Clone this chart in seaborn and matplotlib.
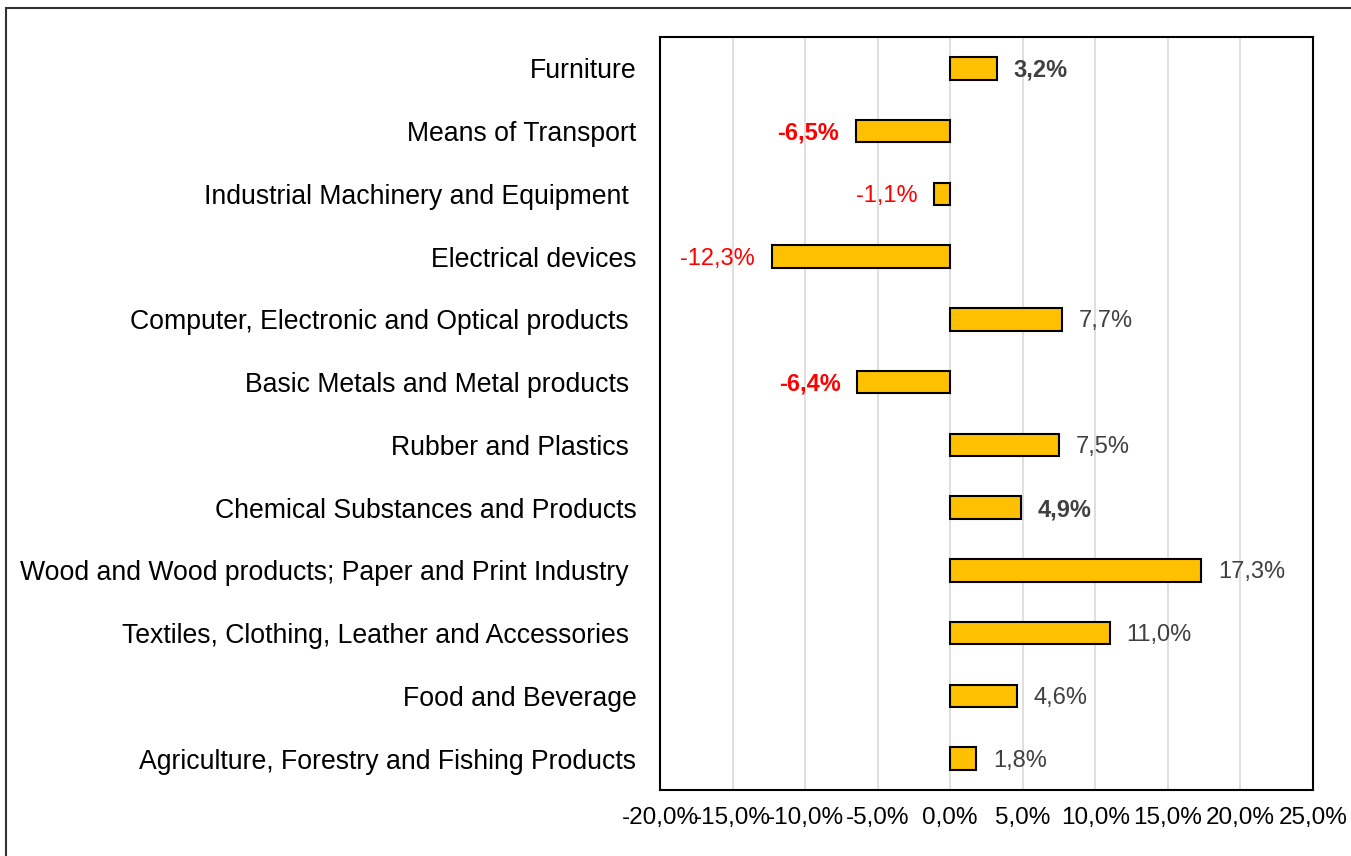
import numpy as np
import pandas as pd
import matplotlib.pyplot as plt
import seaborn as sns
from matplotlib.patches import Rectangle
from matplotlib.ticker import FuncFormatter

# kategorie od gory do dolu
categories = [
    "Furniture",
    "Means of Transport",
    "Industrial Machinery and Equipment ",
    "Electrical devices",
    "Computer, Electronic and Optical products ",
    "Basic Metals and Metal products ",
    "Rubber and Plastics ",
    "Chemical Substances and Products",
    "Wood and Wood products; Paper and Print Industry ",
    "Textiles, Clothing, Leather and Accessories ",
    "Food and Beverage",
    "Agriculture, Forestry and Fishing Products",
]
growth = [3.2, -6.5, -1.1, -12.3, 7.7, -6.4, 7.5, 4.9, 17.3, 11.0, 4.6, 1.8]
xticks = [-20, -15, -10, -5, 0, 5, 10, 15, 20, 25]

# etykiety pogrubione
bold_labels = {"Furniture", "Means of Transport", "Basic Metals and Metal products ",
               "Chemical Substances and Products"}

df = pd.DataFrame({"cat": categories, "val": growth})

sns.set_style("white")
plt.rcParams['font.family'] = ['Liberation Sans', 'DejaVu Sans']
plt.rcParams['text.color'] = 'black'
plt.rcParams['xtick.color'] = 'black'
plt.rcParams['ytick.color'] = 'black'

fig = plt.figure(figsize=(13.51, 8.56), dpi=100)
ax = fig.add_axes([660 / 1351, 1 - 790 / 856, (1313 - 660) / 1351, (790 - 37) / 856])

ax.set_axisbelow(True)
for t in xticks:
    ax.axvline(t, color='#d9d9d9', lw=1.2, zorder=0)

sns.barplot(data=df, x="val", y="cat", color="#ffc000", edgecolor="black",
            linewidth=1.5, width=0.36, saturation=1, ax=ax, zorder=2)

ax.set_xlim(-20, 25)
ax.set_xticks(xticks)
ax.xaxis.set_major_formatter(FuncFormatter(lambda v, p: f"{v:.1f}%".replace(".", ",")))
ax.set_xlabel("")
ax.set_ylabel("")
ax.tick_params(axis='y', length=0, pad=17, labelsize=19.2, labelcolor='black')
ax.tick_params(axis='x', length=0, pad=12, labelsize=17.5, labelcolor='black')

for s in ax.spines.values():
    s.set_color("black")
    s.set_linewidth(1.5)

# etykiety wartosci
for i, (c, v) in enumerate(zip(categories, growth)):
    txt = f"{v:.1f}%".replace(".", ",")
    col = "#ff0000" if v < 0 else "#404040"
    fw = "bold" if c in bold_labels else "normal"
    if v >= 0:
        ax.annotate(txt, (v, i), xytext=(12, -1.5), textcoords="offset points",
                    ha="left", va="center", fontsize=17, color=col, fontweight=fw)
    else:
        ax.annotate(txt, (v, i), xytext=(-12, -1.5), textcoords="offset points",
                    ha="right", va="center", fontsize=17, color=col, fontweight=fw)

# ramka wokol calego wykresu
fig.patches.append(Rectangle((6 / 1351, -0.2), 1.2, 1.2 - 8 / 856,
                             transform=fig.transFigure, fill=False,
                             edgecolor="#333333", lw=1.5))

fig.savefig("out.png", dpi=100)
